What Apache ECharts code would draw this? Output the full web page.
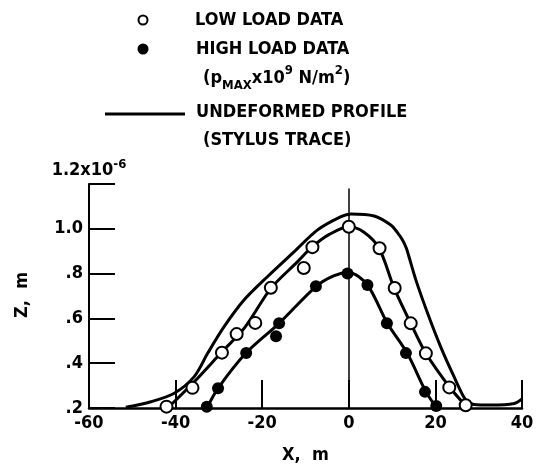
<!DOCTYPE html>
<html><head><meta charset="utf-8">
<script src="https://cdn.jsdelivr.net/npm/echarts@6/dist/echarts.min.js"></script>
<style>html,body{margin:0;padding:0;background:#fff}#c{width:537px;height:469px}</style>
</head><body><div id="c"></div>
<script>
// X, m ; Z in units of 1e-6 m
var xTicks = [-60, -40, -20, 0, 20, 40];
var yTickLabels = { '0.2': '.2', '0.4': '.4', '0.6': '.6', '0.8': '.8', '1': '1.0', '1.2': '' };

var lowX = [-42.1, -36.1, -29.3, -25.9, -21.6, -18.0, -10.4, -8.4, 0, 7.1, 10.6, 14.3, 17.8, 23.2, 27.0];
var lowY = [0.206, 0.29, 0.447, 0.53, 0.58, 0.737, 0.825, 0.918, 1.009, 0.913, 0.736, 0.578, 0.444, 0.292, 0.212];

var highX = [-32.8, -30.2, -23.7, -16.8, -16.1, -7.6, -0.3, 4.3, 8.8, 13.2, 17.6, 20.2];
var highY = [0.206, 0.288, 0.446, 0.52, 0.578, 0.744, 0.80, 0.749, 0.578, 0.445, 0.272, 0.209];

var lowCurveX = [-41.8, -35.7, -29.6, -24.0, -18.0, -12.0, -8.4, -4.5, 0, 3.5, 7.0, 10.5, 14.3, 17.8, 23.2, 27.0];
var lowCurveY = [0.2, 0.317, 0.444, 0.56, 0.734, 0.85, 0.92, 0.975, 1.009, 0.985, 0.913, 0.734, 0.578, 0.444, 0.295, 0.21];

var highCurveX = [-32.8, -30.2, -23.8, -16.1, -7.6, -3.5, 0, 4.3, 8.9, 13.5, 17.8, 20.3];
var highCurveY = [0.2, 0.288, 0.444, 0.578, 0.742, 0.79, 0.805, 0.749, 0.578, 0.444, 0.273, 0.2];

var profileX = [-51.5, -45.7, -40.3, -35.7, -32.6, -28.8, -24.2, -18.8, -12.6, -7.2, -1.8, 0.5, 5.85, 9.7, 11.2, 12.4, 13.3, 13.9, 15.5, 18.2, 21.2, 24.3, 27.0, 28.9, 32.8, 38.2, 40];
var profileY = [0.203, 0.228, 0.266, 0.34, 0.444, 0.563, 0.682, 0.786, 0.898, 0.995, 1.054, 1.066, 1.057, 1.017, 0.984, 0.95, 0.913, 0.875, 0.771, 0.623, 0.474, 0.34, 0.236, 0.216, 0.213, 0.22, 0.24];

var zeroLineTop = 1.18;

function pairs(xs, ys) { return xs.map(function (x, i) { return [x, ys[i]]; }); }

var FONT = 'DejaVu Sans Condensed';
var FW = 'bold';
var FS = 18;
var chart = echarts.init(document.getElementById('c'));
chart.setOption({
  backgroundColor: '#fff',
  animation: false,
  grid: { left: 89, right: 15, top: 184, bottom: 61 },
  xAxis: {
    type: 'value', min: -60, max: 40, interval: 20,
    name: 'X,  m', nameLocation: 'middle', nameGap: 38,
    nameTextStyle: { fontFamily: FONT, fontSize: FS, fontWeight: FW, color: '#000' },
    axisLine: { show: true, onZero: false, lineStyle: { color: '#000', width: 2.5 } },
    axisTick: { show: true, inside: true, length: 28, lineStyle: { color: '#000', width: 2 } },
    axisLabel: { fontFamily: FONT, fontSize: FS, fontWeight: FW, color: '#000', margin: 6,
      formatter: function (v) { return xTicks.indexOf(v) >= 0 ? String(v) : ''; } },
    splitLine: { show: false }
  },
  yAxis: {
    type: 'value', min: 0.2, max: 1.2, interval: 0.2,
    name: '1.2x10{sup|-6}', nameLocation: 'end', nameGap: 2,
    nameTextStyle: { fontFamily: FONT, fontSize: FS, fontWeight: FW, color: '#000', align: 'center', verticalAlign: 'bottom',
      lineHeight: 24,
      rich: { sup: { fontFamily: FONT, fontSize: 13, fontWeight: FW, color: '#000', verticalAlign: 'top', lineHeight: 24 } } },
    axisLine: { show: true, onZero: false, lineStyle: { color: '#000', width: 2 } },
    axisTick: { show: true, inside: true, length: 26, lineStyle: { color: '#000', width: 2 } },
    axisLabel: { fontFamily: FONT, fontSize: FS, fontWeight: FW, color: '#000', margin: 6,
      formatter: function (v) { var k = String(Math.round(v * 10) / 10); return yTickLabels[k] !== undefined ? yTickLabels[k] : ''; } },
    splitLine: { show: false }
  },
  graphic: [
    { type: 'text', x: 22, y: 295, rotation: Math.PI / 2, style: { text: 'Z,  m', font: FW + ' ' + FS + 'px ' + FONT, fill: '#000', align: 'center', verticalAlign: 'middle' } },
    { type: 'circle', shape: { cx: 143, cy: 20, r: 4.5 }, style: { fill: '#fff', stroke: '#000', lineWidth: 2 } },
    { type: 'text', x: 195, y: 20, style: { text: 'LOW LOAD DATA', font: FW + ' ' + FS + 'px ' + FONT, fill: '#000', verticalAlign: 'middle' } },
    { type: 'circle', shape: { cx: 143, cy: 49, r: 5.5 }, style: { fill: '#000' } },
    { type: 'text', x: 196, y: 49, style: { text: 'HIGH LOAD DATA', font: FW + ' ' + FS + 'px ' + FONT, fill: '#000', verticalAlign: 'middle' } },
    { type: 'text', x: 203, y: 64, style: { text: '(p{sub|MAX}x10{sup|9} N/m{sup|2})', font: FW + ' ' + FS + 'px ' + FONT, fill: '#000', lineHeight: 28,
      rich: { sub: { font: FW + ' 13px ' + FONT, fill: '#000', verticalAlign: 'bottom', lineHeight: 28 }, sup: { font: FW + ' 13px ' + FONT, fill: '#000', verticalAlign: 'top', lineHeight: 28 } } } },
    { type: 'line', shape: { x1: 105, y1: 114, x2: 185, y2: 114 }, style: { stroke: '#000', lineWidth: 3 } },
    { type: 'text', x: 196, y: 112, style: { text: 'UNDEFORMED PROFILE', font: FW + ' ' + FS + 'px ' + FONT, fill: '#000', verticalAlign: 'middle' } },
    { type: 'text', x: 203, y: 140, style: { text: '(STYLUS TRACE)', font: FW + ' ' + FS + 'px ' + FONT, fill: '#000', verticalAlign: 'middle' } }
  ],
  series: [
    { name: 'Undeformed profile', type: 'line', smooth: 0.3, showSymbol: false, data: pairs(profileX, profileY),
      lineStyle: { color: '#000', width: 3 },
      markLine: { silent: true, symbol: 'none', label: { show: false }, lineStyle: { color: '#000', width: 1.5, type: 'solid' },
        data: [[{ coord: [0, 0.2] }, { coord: [0, zeroLineTop] }]] } },
    { name: 'Low load fit', type: 'line', smooth: 0.3, showSymbol: false, data: pairs(lowCurveX, lowCurveY), lineStyle: { color: '#000', width: 3 } },
    { name: 'High load fit', type: 'line', smooth: 0.3, showSymbol: false, data: pairs(highCurveX, highCurveY), lineStyle: { color: '#000', width: 3 } },
    { name: 'Low load data', type: 'scatter', symbol: 'circle', symbolSize: 12, data: pairs(lowX, lowY),
      itemStyle: { color: '#fff', borderColor: '#000', borderWidth: 2, opacity: 1 }, z: 5 },
    { name: 'High load data', type: 'scatter', symbol: 'circle', symbolSize: 12, data: pairs(highX, highY),
      itemStyle: { color: '#000', opacity: 1 }, z: 5 }
  ]
});
</script></body></html>
